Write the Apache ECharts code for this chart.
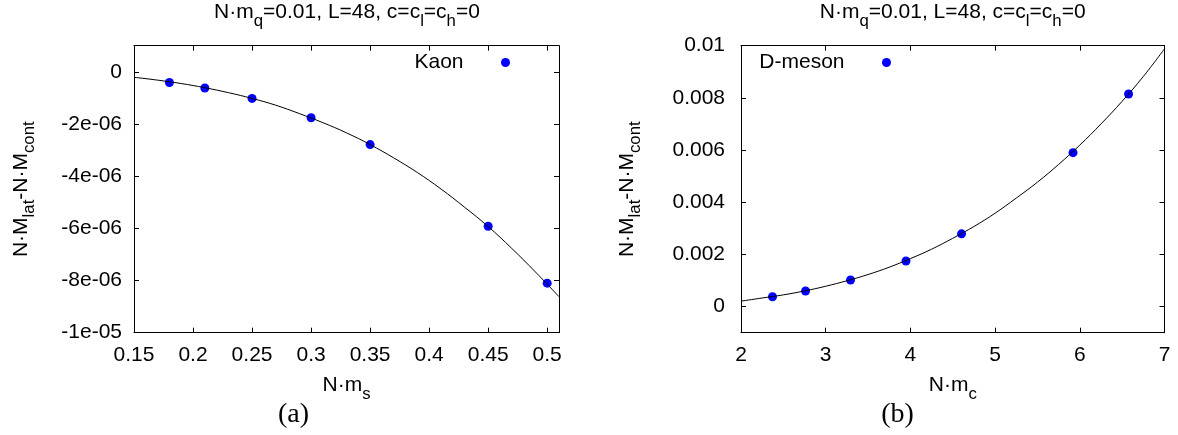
<!DOCTYPE html>
<html>
<head>
<meta charset="utf-8">
<script src="https://cdn.jsdelivr.net/npm/echarts/dist/echarts.min.js"></script>
<style>
html,body{margin:0;padding:0;background:#fff;}
#chart{width:1178px;height:435px;}
</style>
</head>
<body>
<div id="chart"></div>
<script>
// ---- data ----
const kaonX = [0.18, 0.21, 0.25, 0.30, 0.35, 0.45, 0.50];
const kaonY = [-0.41e-6, -0.62e-6, -1.02e-6, -1.76e-6, -2.79e-6, -5.92e-6, -8.10e-6];
// fitted curve, read along its path
const kaonFitX = [0.15, 0.17, 0.19, 0.21, 0.23, 0.25, 0.27, 0.29, 0.31, 0.33, 0.35, 0.37, 0.39, 0.41, 0.43, 0.45, 0.47, 0.49, 0.51];
const kaonFitY = [-0.21e-6, -0.32e-6, -0.45e-6, -0.61e-6, -0.80e-6, -1.02e-6, -1.28e-6, -1.60e-6, -1.95e-6, -2.34e-6, -2.79e-6,
                  -3.30e-6, -3.86e-6, -4.49e-6, -5.19e-6, -5.93e-6, -6.77e-6, -7.67e-6, -8.62e-6];

const dX = [2.372, 2.762, 3.293, 3.948, 4.604, 5.920, 6.576];
const dY = [0.38e-3, 0.60e-3, 1.02e-3, 1.75e-3, 2.79e-3, 5.90e-3, 8.15e-3];
const dFitX = [2.0, 2.25, 2.5, 2.75, 3.0, 3.25, 3.5, 3.75, 4.0, 4.25, 4.5, 4.75, 5.0, 5.25, 5.5, 5.75, 6.0, 6.25, 6.5, 6.75, 7.0];
const dFitY = [0.21e-3, 0.33e-3, 0.45e-3, 0.60e-3, 0.78e-3, 0.99e-3, 1.23e-3, 1.51e-3, 1.84e-3, 2.20e-3, 2.62e-3,
               3.07e-3, 3.58e-3, 4.16e-3, 4.77e-3, 5.45e-3, 6.19e-3, 7.00e-3, 7.87e-3, 8.82e-3, 9.88e-3];

const leftXTicks = [0.15, 0.2, 0.25, 0.3, 0.35, 0.4, 0.45, 0.5];
const leftXLabels = ['0.15', '0.2', '0.25', '0.3', '0.35', '0.4', '0.45', '0.5'];
const leftYTicks = [0, -2e-6, -4e-6, -6e-6, -8e-6, -1e-5];
const leftYLabels = ['0', '-2e-06', '-4e-06', '-6e-06', '-8e-06', '-1e-05'];
const rightXTicks = [2, 3, 4, 5, 6, 7];
const rightXLabels = ['2', '3', '4', '5', '6', '7'];
const rightYTicks = [0, 0.002, 0.004, 0.006, 0.008, 0.01];
const rightYLabels = ['0', '0.002', '0.004', '0.006', '0.008', '0.01'];

const titleText = '{n|N\u00B7m}{s|q}{n|=0.01, L=48, c=c}{s|l}{n|=c}{s|h}{n|=0}';
const yNameText = '{n|N\u00B7M}{s|lat}{n|-N\u00B7M}{s|cont}';
const xNameLeft = '{n|N\u00B7m}{s|s}';
const xNameRight = '{n|N\u00B7m}{s|c}';

// ---- styling ----
const SANS = 'Liberation Sans';
const FS = 21;
const SUB = 16.8;
const rich = {
  n: {fontFamily: SANS, fontSize: FS, fontWeight: 'normal', color: '#000'},
  s: {fontFamily: SANS, fontSize: SUB, fontWeight: 'normal', color: '#000', padding: [17, 0, 0, 0]}
};

function zip(xs, ys) { return xs.map((x, i) => [x, ys[i]]); }
function labeler(ticks, labels) {
  const span = Math.max.apply(null, ticks.map(Math.abs)) || 1;
  return function (v) {
    for (let i = 0; i < ticks.length; i++) {
      if (Math.abs(v - ticks[i]) < span * 1e-9) return labels[i];
    }
    return '';
  };
}

function mkAxis(grid, pos, min, max, ticks, labels, withLabels, margin, extra) {
  const ax = {
    gridIndex: grid, type: 'value', position: pos, min: min, max: max,
    axisLine: {show: true, onZero: false, lineStyle: {color: '#000', width: 1}},
    axisTick: {show: true, inside: true, length: 5, customValues: ticks, lineStyle: {color: '#000', width: 1}},
    axisLabel: withLabels ? {
      show: true, customValues: ticks, formatter: labeler(ticks, labels),
      fontFamily: SANS, fontSize: FS, color: '#000', margin: margin
    } : {show: false},
    splitLine: {show: false}
  };
  return Object.assign(ax, extra || {});
}

const titleStyle = {fontFamily: SANS, fontSize: FS, fontWeight: 'normal', color: '#000', rich: rich};
const nameStyle = {fontFamily: SANS, fontSize: FS, fontWeight: 'normal', color: '#000', rich: rich};
const serif = {fontFamily: 'Liberation Serif', fontSize: 28, fontWeight: 'normal', color: '#000'};
const legendText = {fontFamily: SANS, fontSize: FS, fontWeight: 'normal', color: '#000'};

const GTOP = 45.7, GH = 287;
const option = {
  animation: false,
  backgroundColor: '#fff',
  title: [
    {text: titleText, left: 347, top: 12.5, textAlign: 'center', textVerticalAlign: 'middle', padding: 0, textStyle: titleStyle},
    {text: titleText, left: 952.7, top: 12.5, textAlign: 'center', textVerticalAlign: 'middle', padding: 0, textStyle: titleStyle},
    {text: '(a)', left: 293.5, top: 414.5, textAlign: 'center', textVerticalAlign: 'middle', padding: 0, textStyle: serif},
    {text: '(b)', left: 897.5, top: 414.5, textAlign: 'center', textVerticalAlign: 'middle', padding: 0, textStyle: serif}
  ],
  legend: [
    {data: ['Kaon'], right: 668, top: 52, padding: 0, align: 'right', itemWidth: 74, itemHeight: 9,
     icon: 'circle', selectedMode: false, textStyle: legendText},
    {data: ['D-meson'], right: 287, top: 52, padding: 0, align: 'right', itemWidth: 74, itemHeight: 9,
     icon: 'circle', selectedMode: false, textStyle: legendText}
  ],
  grid: [
    {left: 134, top: GTOP, width: 425, height: GH},
    {left: 741, top: GTOP, width: 423.5, height: GH}
  ],
  xAxis: [
    mkAxis(0, 'bottom', 0.15, 0.51, leftXTicks, leftXLabels, true, 12,
      {name: xNameLeft, nameLocation: 'middle', nameGap: 36, nameTextStyle: nameStyle}),
    mkAxis(0, 'top', 0.15, 0.51, leftXTicks, leftXLabels, false, 0),
    mkAxis(1, 'bottom', 2, 7, rightXTicks, rightXLabels, true, 12,
      {name: xNameRight, nameLocation: 'middle', nameGap: 36, nameTextStyle: nameStyle}),
    mkAxis(1, 'top', 2, 7, rightXTicks, rightXLabels, false, 0)
  ],
  yAxis: [
    mkAxis(0, 'left', -1e-5, 1e-6, leftYTicks, leftYLabels, true, 12,
      {name: yNameText, nameLocation: 'middle', nameGap: 96, nameRotate: 90, nameTextStyle: nameStyle}),
    mkAxis(0, 'right', -1e-5, 1e-6, leftYTicks, leftYLabels, false, 0),
    mkAxis(1, 'left', -0.001, 0.01, rightYTicks, rightYLabels, true, 16,
      {name: yNameText, nameLocation: 'middle', nameGap: 97, nameRotate: 90, nameTextStyle: nameStyle}),
    mkAxis(1, 'right', -0.001, 0.01, rightYTicks, rightYLabels, false, 0)
  ],
  series: [
    {name: 'Kaon', type: 'scatter', xAxisIndex: 0, yAxisIndex: 0, data: zip(kaonX, kaonY),
     symbol: 'circle', symbolSize: 9, itemStyle: {color: '#0000ff', opacity: 1}, z: 2},
    {name: 'Kaon fit', type: 'line', xAxisIndex: 0, yAxisIndex: 0, data: zip(kaonFitX, kaonFitY),
     showSymbol: false, smooth: 0.4, lineStyle: {color: '#000', width: 1}, itemStyle: {color: '#000'}, z: 3},
    {name: 'D-meson', type: 'scatter', xAxisIndex: 2, yAxisIndex: 2, data: zip(dX, dY),
     symbol: 'circle', symbolSize: 9, itemStyle: {color: '#0000ff', opacity: 1}, z: 2},
    {name: 'D-meson fit', type: 'line', xAxisIndex: 2, yAxisIndex: 2, data: zip(dFitX, dFitY),
     showSymbol: false, smooth: 0.4, lineStyle: {color: '#000', width: 1}, itemStyle: {color: '#000'}, z: 3}
  ]
};

const chart = echarts.init(document.getElementById('chart'), null, {renderer: 'canvas'});
chart.setOption(option);
</script>
</body>
</html>
